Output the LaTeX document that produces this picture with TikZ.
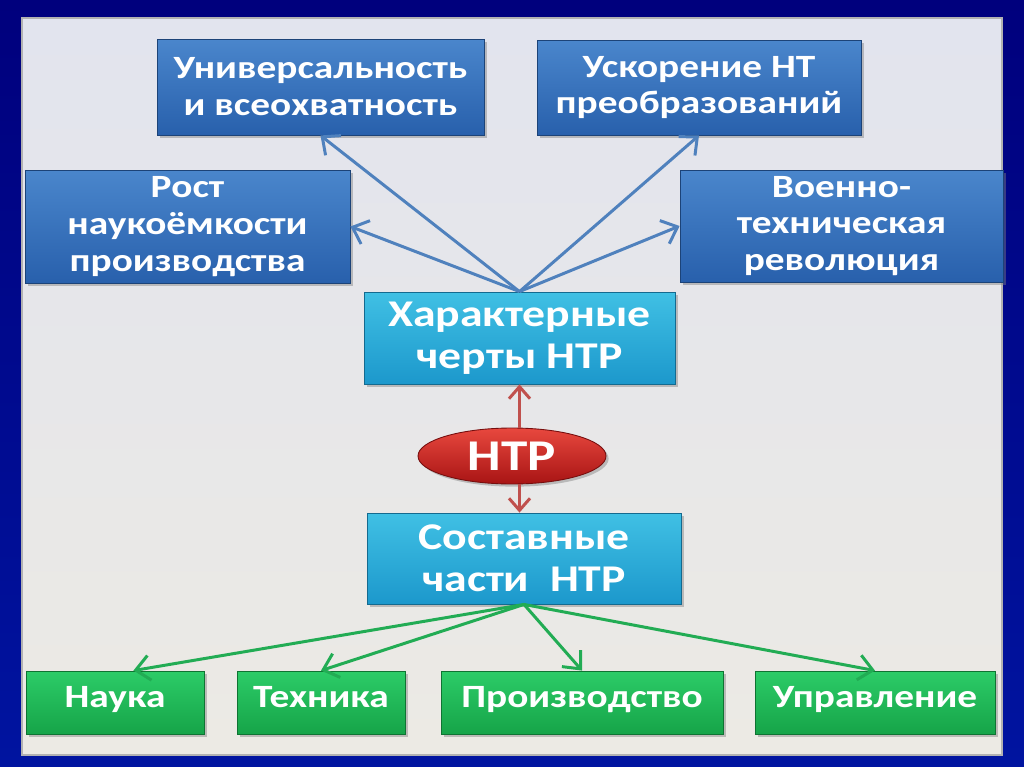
\documentclass[tikz,border=0pt]{standalone}
\usepackage{fontspec}
\setmainfont{Carlito}[FakeStretch=1.21]
\usetikzlibrary{arrows.meta, positioning, shapes.geometric, shadows}

\definecolor{frameDark}{RGB}{0,0,125}
\definecolor{frameMid}{RGB}{15,75,235}
\definecolor{frameLow}{RGB}{0,20,160}
\definecolor{panelTop}{RGB}{226,228,238}
\definecolor{panelLow}{RGB}{236,234,228}
\definecolor{featTop}{RGB}{74,134,204}
\definecolor{featLow}{RGB}{40,96,172}
\definecolor{partTop}{RGB}{64,192,228}
\definecolor{partLow}{RGB}{28,152,204}
\definecolor{leafTop}{RGB}{44,204,104}
\definecolor{leafLow}{RGB}{22,164,72}
\definecolor{coreTop}{RGB}{232,72,62}
\definecolor{coreLow}{RGB}{168,20,20}
\definecolor{linkBlue}{RGB}{79,129,189}
\definecolor{linkRed}{RGB}{192,80,77}
\definecolor{linkGreen}{RGB}{34,172,84}

\begin{document}
\begin{tikzpicture}[x=0.02cm, y=-0.02cm,
    box/.style={rectangle, line width=0.5pt, text=white, align=center,
        inner sep=2pt, drop shadow={opacity=0.45, shadow xshift=1.5pt, shadow yshift=-1.5pt}},
    feat/.style={box, draw=featLow!70!black, top color=featTop, bottom color=featLow,
        font=\bfseries\fontsize{18.5}{21}\selectfont},
    part/.style={box, draw=partLow!70!black, top color=partTop, bottom color=partLow,
        font=\bfseries\fontsize{21.5}{24}\selectfont},
    leaf/.style={box, draw=leafLow!70!black, top color=leafTop, bottom color=leafLow,
        font=\bfseries\fontsize{18.5}{21}\selectfont, minimum height=1.26cm,
        text height=0.66em, text depth=0.06em},
    core/.style={ellipse, draw=coreLow!70!black, line width=0.5pt, text=white,
        top color=coreTop, bottom color=coreLow, inner sep=0pt,
        font=\bfseries\fontsize{25}{28}\selectfont,
        drop shadow={opacity=0.45, shadow xshift=1.5pt, shadow yshift=-1.5pt}},
    bluelink/.style={draw=linkBlue, line width=1.7pt, -{Straight Barb[length=2.8mm, width=5mm]}},
    redlink/.style={draw=linkRed, line width=1.7pt, -{Straight Barb[length=2.4mm, width=4.2mm]}},
    greenlink/.style={draw=linkGreen, line width=1.7pt, -{Straight Barb[length=2.8mm, width=5mm]}}]

    \fill[top color=frameDark, middle color=frameMid, bottom color=frameLow] (0,0) rectangle (1024,767);
    \draw[draw=gray!60, line width=1pt, top color=panelTop, bottom color=panelLow] (22,18) rectangle (1002,755);

    \node[feat, minimum width=6.54cm, minimum height=1.92cm] (univ) at (320.5,87) {Универсальность\\и всеохватность};
    \node[feat, minimum width=6.48cm, minimum height=1.90cm] (uskor) at (699,87.5) {Ускорение НТ\\преобразований};
    \node[feat, minimum width=6.50cm, minimum height=2.26cm] (rost) at (187.5,226.5) {Рост\\наукоёмкости\\производства};
    \node[feat, minimum width=6.46cm, minimum height=2.24cm] (voen) at (841.5,226) {Военно-\\техническая\\революция};

    \node[part, minimum width=6.22cm, minimum height=1.84cm] (harakt) at (519.5,338) {Характерные\\черты НТР};
    \node[core, minimum width=3.76cm, minimum height=1.12cm] (ntr) at (512,456) {НТР};
    \node[part, minimum width=6.28cm, minimum height=1.82cm] (sostav) at (524,558.5) {Составные\\части~ НТР};

    \node[leaf, minimum width=3.56cm] (nauka) at (115,702.5) {Наука};
    \node[leaf, minimum width=3.36cm] (tehnika) at (321,702.5) {Техника};
    \node[leaf, minimum width=5.64cm] (proizv) at (582,702.5) {Производство};
    \node[leaf, minimum width=4.80cm] (uprav) at (875,702.5) {Управление};

    \draw[bluelink] (harakt.north) -- (univ.south);
    \draw[bluelink] (harakt.north) -- (rost.east);
    \draw[bluelink] (harakt.north) -- (uskor.south);
    \draw[bluelink] (harakt.north) -- (voen.west);

    \draw[redlink] (ntr.north -| harakt.south) -- (harakt.south);
    \draw[redlink] (ntr.south -| harakt.south) -- (sostav.north -| harakt.south);

    \draw[greenlink] (sostav.south) -- (nauka.60);
    \draw[greenlink] (sostav.south) -- (tehnika.north);
    \draw[greenlink] (sostav.south) -- (proizv.north);
    \draw[greenlink] (sostav.south) -- (uprav.north);
\end{tikzpicture}
\end{document}
